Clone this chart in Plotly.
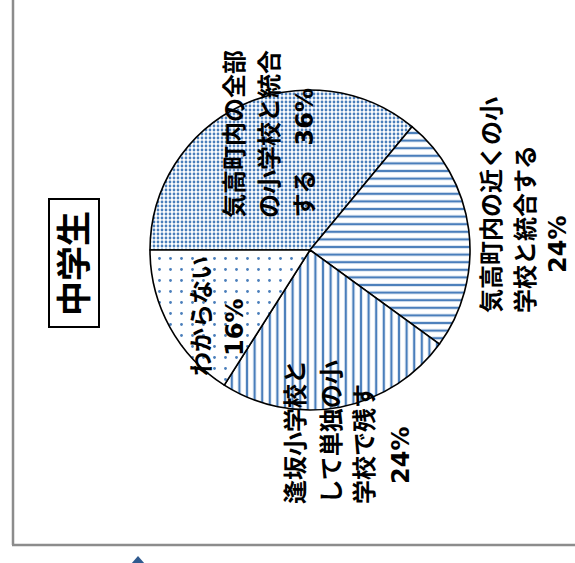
import plotly.graph_objects as go

W, H = 575, 563

# ---- data ----
categories = ["気高町内の全部の小学校と統合する",
              "気高町内の近くの小学校と統合する",
              "逢坂小学校として単独の小学校で残す",
              "わからない"]
values = [36, 24, 24, 16]
# wrapped display lines of each category name
label_lines = [["気高町内の全部", "の小学校と統合", "する"],
               ["気高町内の近くの小", "学校と統合する"],
               ["逢坂小学校と", "して単独の小", "学校で残す"],
               ["わからない"]]
pct_inline = [True, False, False, False]
title_text = "中学生"

BLUE = "#4a7ebb"
FONT = "DejaVu Sans, Noto Sans CJK JP"


def px(x):
    return x / W


def py(y):
    return 1 - y / H


fig = go.Figure(go.Pie(
    labels=categories,
    values=values,
    sort=False,
    direction="clockwise",
    rotation=-90,
    textinfo="none",
    hoverinfo="label+percent",
    showlegend=False,
    domain=dict(x=[px(150), px(470)], y=[py(410), py(90)]),
    marker=dict(
        colors=["white"] * 4,
        line=dict(color="black", width=1.6),
        pattern=dict(
            shape=[".", "-", "|", "."],
            size=[4, 7.6, 7.6, 11],
            solidity=[0.38, 0.3, 0.3, 0.05],
            fgcolor=BLUE,
            bgcolor="white",
            fillmode="replace",
        ),
    ),
))

# label placement (pixel positions of each label's text columns)
label_pos = [
    dict(cols=[235, 270, 305], bottom=220, pct=None),
    dict(cols=[492, 526], bottom=315, pct=(558, 245)),
    dict(cols=[296, 331, 365], bottom=506, pct=(401, 455)),
    dict(cols=[202], bottom=378, pct=(235, 328)),
]

annotations = []
font = dict(family=FONT, size=24, color="black", weight="bold")
for lines, v, inline, pos in zip(label_lines, values, pct_inline, label_pos):
    pct = f"{v}%"
    for i, (line, cx) in enumerate(zip(lines, pos["cols"])):
        t = line
        if inline and i == len(lines) - 1:
            t = line + "　" + pct
        annotations.append(dict(text=t, x=px(cx), y=py(pos["bottom"]),
                                xref="paper", yref="paper", xanchor="center",
                                yanchor="bottom", textangle=-90,
                                showarrow=False, font=font))
    if not inline:
        cx, cy = pos["pct"]
        annotations.append(dict(text=pct, x=px(cx), y=py(cy),
                                xref="paper", yref="paper", xanchor="center",
                                yanchor="middle", textangle=-90,
                                showarrow=False, font=font))

annotations.append(dict(text=title_text, x=px(75), y=py(264), xref="paper",
                        yref="paper", xanchor="center", yanchor="middle",
                        textangle=-90, showarrow=False,
                        font=dict(family=FONT, size=35, color="black",
                                  weight="bold")))

shapes = [
    # chart frame (left and bottom edges)
    dict(type="line", xref="paper", yref="paper", x0=px(13), x1=px(13),
         y0=py(545), y1=py(-5), line=dict(color="#8c8c8c", width=2.5)),
    dict(type="line", xref="paper", yref="paper", x0=px(12), x1=px(580),
         y0=py(545), y1=py(545), line=dict(color="#8c8c8c", width=2.5)),
    # title box
    dict(type="rect", xref="paper", yref="paper", x0=px(49), x1=px(99),
         y0=py(327), y1=py(199), line=dict(color="black", width=2),
         fillcolor="white", layer="below"),
    # small marker at bottom
    dict(type="path", xref="paper", yref="paper",
         path=f"M {px(138)},{py(556)} L {px(131)},{py(564)} L {px(145)},{py(564)} Z",
         fillcolor="#2f5a8f", line=dict(width=0)),
]

fig.update_layout(
    width=W, height=H, autosize=False,
    margin=dict(l=0, r=0, t=0, b=0),
    paper_bgcolor="white", plot_bgcolor="white",
    annotations=annotations, shapes=shapes,
)

fig.write_html("out.html")
